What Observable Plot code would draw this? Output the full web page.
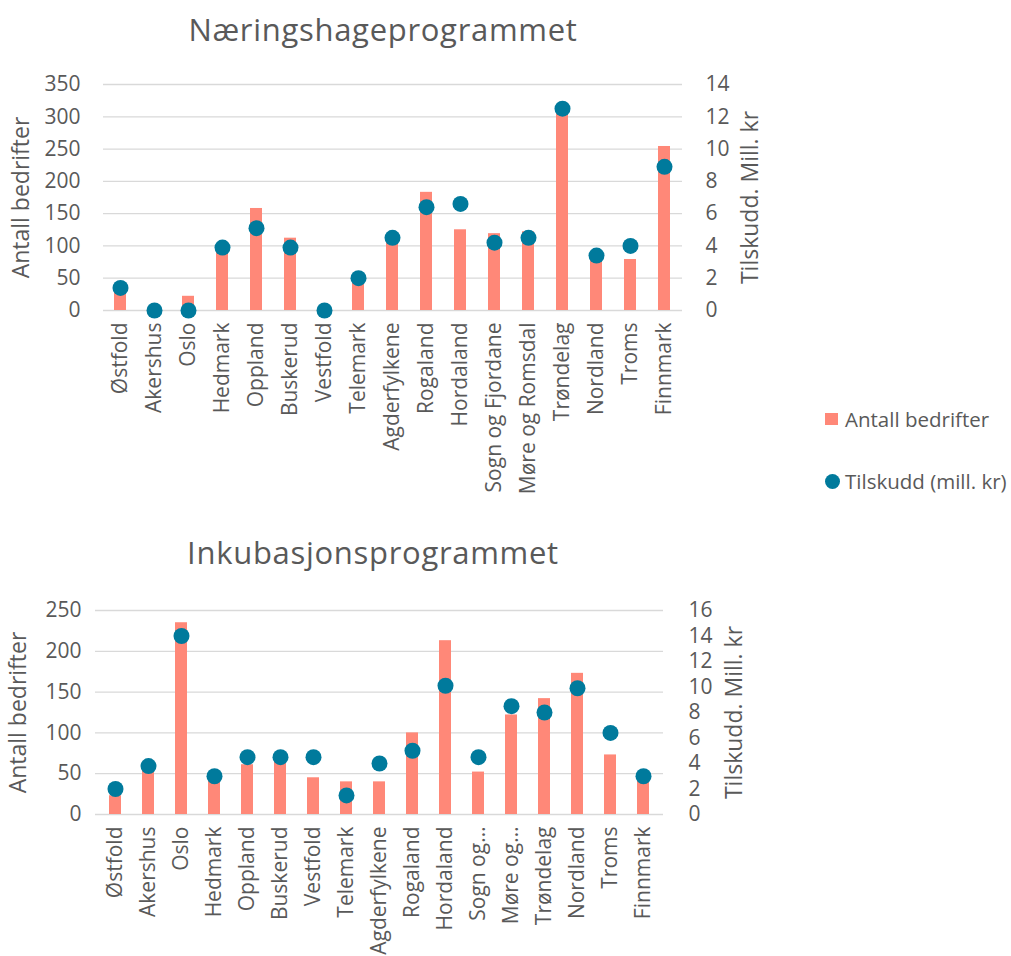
<!DOCTYPE html>
<html>
<head>
<meta charset="utf-8">
<script src="https://cdn.jsdelivr.net/npm/d3@7"></script>
<script src="https://cdn.jsdelivr.net/npm/@observablehq/plot@0.6"></script>
<style>
  html, body { margin: 0; padding: 0; background: #fff; overflow: hidden; }
  body { width: 1011px; height: 956px; position: relative; font-family: 'Open Sans', sans-serif; color: #595959; }
  .title { position: absolute; text-align: center; font-size: 31px; letter-spacing: 0.7px; white-space: nowrap; }
  .chart { position: absolute; left: 0; }
  .legend-item { position: absolute; display: flex; align-items: center; font-size: 20.5px; white-space: nowrap; }
</style>
</head>
<body>
<div class="title" style="left:0; width:766px; top:8px;">Næringshageprogrammet</div>
<div class="title" style="left:0; width:746px; top:531px;">Inkubasjonsprogrammet</div>
<div id="top" class="chart" style="top:60px;"></div>
<div id="bottom" class="chart" style="top:590px;"></div>
<div class="legend-item" style="left:825px; top:405px;"><span style="display:inline-block;width:13px;height:12px;background:#FF8878;margin-right:7px;"></span>Antall bedrifter</div>
<div class="legend-item" style="left:825px; top:467px;"><span style="display:inline-block;width:15px;height:15px;border-radius:50%;background:#007A9C;margin-right:5px;"></span>Tilskudd (mill. kr)</div>
<script>
// ---- Data ----
const regionsTop = ["Østfold","Akershus","Oslo","Hedmark","Oppland","Buskerud","Vestfold","Telemark","Agderfylkene","Rogaland","Hordaland","Sogn og Fjordane","Møre og Romsdal","Trøndelag","Nordland","Troms","Finnmark"];
const bedrifterTop = [34, 0, 22, 98, 158, 112, 0, 47, 108, 183, 125, 119, 122, 312, 84, 79, 254];
const tilskuddTop = [1.4, 0, 0, 3.9, 5.1, 3.9, 0, 2.0, 4.5, 6.4, 6.6, 4.2, 4.5, 12.5, 3.4, 4.0, 8.9];
const leftTicksTop = [0, 50, 100, 150, 200, 250, 300, 350];
const rightTicksTop = [0, 2, 4, 6, 8, 10, 12, 14];

const regionsBottom = ["Østfold","Akershus","Oslo","Hedmark","Oppland","Buskerud","Vestfold","Telemark","Agderfylkene","Rogaland","Hordaland","Sogn og…","Møre og…","Trøndelag","Nordland","Troms","Finnmark"];
const bedrifterBottom = [23, 58, 235, 45, 61, 68, 45, 40, 40, 100, 213, 52, 122, 142, 173, 73, 44];
const tilskuddBottom = [2.0, 3.8, 14.0, 3.0, 4.5, 4.5, 4.5, 1.5, 4.0, 5.0, 10.1, 4.5, 8.5, 8.0, 9.9, 6.4, 3.0];
const leftTicksBottom = [0, 50, 100, 150, 200, 250];
const rightTicksBottom = [0, 2, 4, 6, 8, 10, 12, 14, 16];

const barColor = "#FF8878";
const dotColor = "#007A9C";
const textColor = "#595959";

function makeChart({regions, bedrifter, tilskudd, leftTicks, rightTicks, height, marginTop, marginBottom, marginLeft, marginRight, leftPad, rightPad, leftTitleDx, rightTitleDx}) {
  const k = leftTicks[leftTicks.length - 1] / rightTicks[rightTicks.length - 1];
  const rows = regions.map((r, i) => ({region: r, bedrifter: bedrifter[i], tilskudd: tilskudd[i]}));
  return Plot.plot({
    width: 790,
    height,
    marginTop, marginBottom, marginLeft, marginRight,
    style: {fontFamily: "'Open Sans', sans-serif", fontSize: "21px", color: textColor, background: "transparent", overflow: "visible"},
    x: {domain: regions, paddingInner: 0.64, paddingOuter: 0.32, label: null},
    y: {domain: [leftTicks[0], leftTicks[leftTicks.length - 1]], label: null},
    marks: [
      Plot.gridY(leftTicks, {stroke: "#d9d9d9", strokeOpacity: 1, strokeWidth: 1.3}),
      Plot.barY(rows, {x: "region", y: "bedrifter", fill: barColor}),
      Plot.dot(rows, {x: "region", y: d => d.tilskudd * k, r: 8, fill: dotColor}),
      Plot.axisY(leftTicks, {anchor: "left", tickSize: 0, tickPadding: leftPad, label: null}),
      Plot.axisY(rightTicks.map(v => v * k), {anchor: "right", tickSize: 0, tickPadding: rightPad, tickFormat: d => String(Math.round(d / k)), label: null}),
      Plot.axisX({tickRotate: -90, tickSize: 0, tickPadding: 12, label: null, fontSize: 21}),
      Plot.text(["Antall bedrifter"], {text: d => d, frameAnchor: "left", textAnchor: "middle", lineAnchor: "middle", dx: leftTitleDx, rotate: -90, fontSize: 23, fill: textColor}),
      Plot.text(["Tilskudd. Mill. kr"], {text: d => d, frameAnchor: "right", textAnchor: "middle", lineAnchor: "middle", dx: rightTitleDx, rotate: -90, fontSize: 23, fill: textColor})
    ]
  });
}

document.getElementById("top").append(makeChart({
  regions: regionsTop, bedrifter: bedrifterTop, tilskudd: tilskuddTop,
  leftTicks: leftTicksTop, rightTicks: rightTicksTop,
  height: 420, marginTop: 24, marginBottom: 170, marginLeft: 103, marginRight: 108,
  leftPad: 23, rightPad: 23, leftTitleDx: -82, rightTitleDx: 68
}));

document.getElementById("bottom").append(makeChart({
  regions: regionsBottom, bedrifter: bedrifterBottom, tilskudd: tilskuddBottom,
  leftTicks: leftTicksBottom, rightTicks: rightTicksBottom,
  height: 366, marginTop: 20, marginBottom: 142, marginLeft: 95, marginRight: 127,
  leftPad: 14, rightPad: 25, leftTitleDx: -77, rightTitleDx: 71
}));
</script>
</body>
</html>
